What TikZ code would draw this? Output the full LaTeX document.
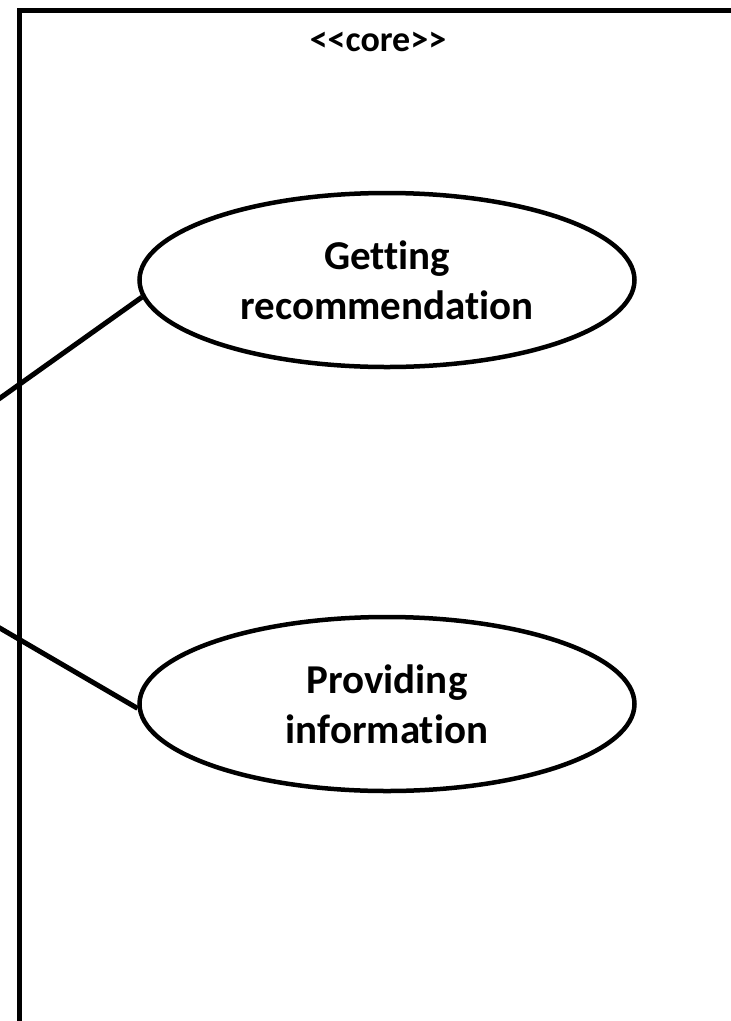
\documentclass[tikz,border=0pt]{standalone}
\usepackage{fontspec}
\setmainfont{Carlito}[Ligatures={NoCommon}]
\usetikzlibrary{shapes.geometric}
\begin{document}
\begin{tikzpicture}[x=1pt,y=-1pt,
  thickline/.style={line width=5pt},
  usecase/.style={ellipse, draw, line width=4.5pt, minimum width=495pt, minimum height=174pt, inner sep=0pt, align=center, font=\bfseries\fontsize{41}{50}\selectfont},
  assoc/.style={line width=5pt}
]
\useasboundingbox (0,0) rectangle (731,1021);
\clip (0,0) rectangle (731,1021);
\node[draw, thickline, anchor=north west, minimum width=760pt, minimum height=1060pt, inner sep=0pt] (sys) at (16.5,7.5) {};
\node[font=\bfseries\fontsize{36}{42}\selectfont] (core) at (378,42) {<\kern0pt<core>\kern0pt>};
\node[usecase] (e1) at (387,280) {Getting\\recommendation};
\node[usecase] (e2) at (387,704) {Providing\\information};
\coordinate (a1) at (-20,412.4);
\coordinate (a2) at (-20,616.5);
\draw[assoc] (a1) -- (e1.184);
\draw[assoc] (a2) -- (e2.181);
\end{tikzpicture}
\end{document}
